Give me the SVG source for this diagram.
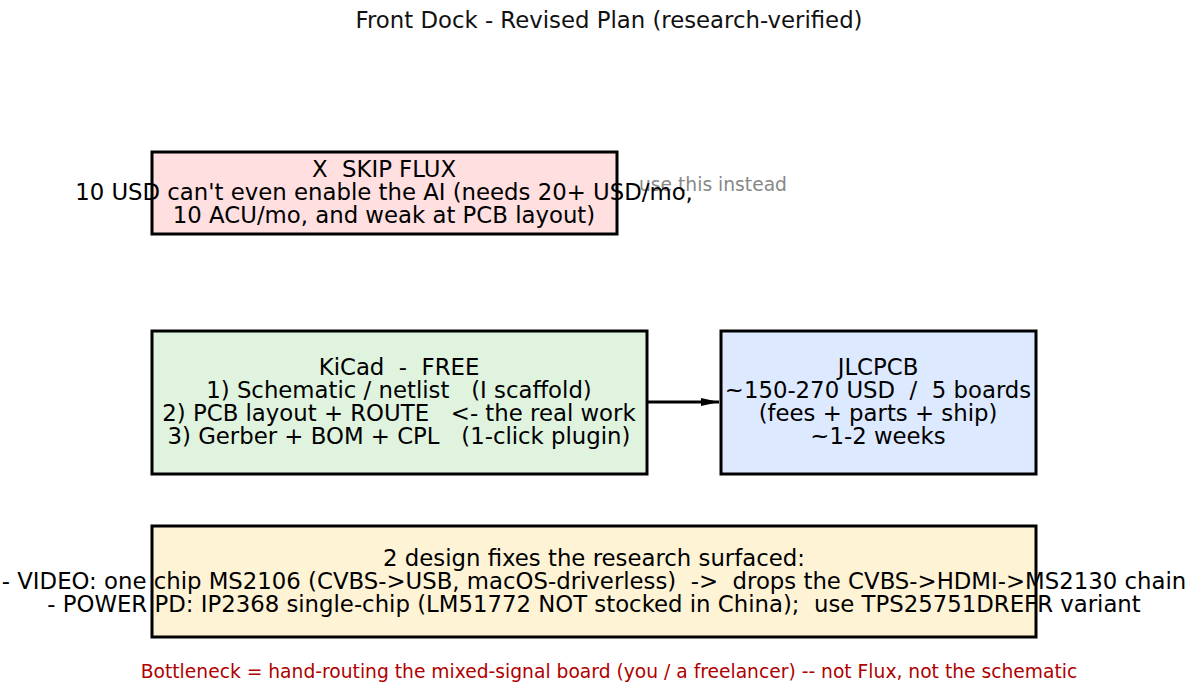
<svg xmlns="http://www.w3.org/2000/svg" width="1188" height="691" viewBox="0 0 1188 691">
<style>
text{font-family:"DejaVu Sans",sans-serif;text-anchor:middle;white-space:pre}
.t{font-size:22.8px;fill:#000}
.box{stroke:#000;stroke-width:3}
</style>
<defs><marker id="ah" markerWidth="18" markerHeight="10" refX="18" refY="5" orient="auto" markerUnits="userSpaceOnUse"><path d="M0,1 L18,5 L0,9z" fill="#000"/></marker></defs>
<rect width="1188" height="691" fill="#fff"/>
<text x="609" y="28" style="font-size:22.8px;fill:#111">Front Dock - Revised Plan (research-verified)</text>
<g id="connectors">
<line x1="647" y1="402" x2="719" y2="402" stroke="#000" stroke-width="3" marker-end="url(#ah)"/>
<text x="713" y="191" style="font-size:18.7px;fill:#888">use this instead</text>
</g>
<g id="flux"><rect class="box" x="152" y="152" width="465" height="82" fill="#ffdfdf"/>
<text class="t" x="384" y="177">X  SKIP FLUX</text>
<text class="t" x="384" y="200">10 USD can't even enable the AI (needs 20+ USD/mo,</text>
<text class="t" x="384" y="223">10 ACU/mo, and weak at PCB layout)</text></g>
<g id="kicad"><rect class="box" x="152" y="331" width="495" height="143" fill="#dff3df"/>
<text class="t" x="399" y="375">KiCad  -  FREE</text>
<text class="t" x="399" y="398">1) Schematic / netlist   (I scaffold)</text>
<text class="t" x="399" y="421">2) PCB layout + ROUTE   &lt;- the real work</text>
<text class="t" x="399" y="444">3) Gerber + BOM + CPL   (1-click plugin)</text></g>
<g id="jlcpcb"><rect class="box" x="721" y="331" width="315" height="143" fill="#dce9ff"/>
<text class="t" x="878" y="375">JLCPCB</text>
<text class="t" x="878" y="398">~150-270 USD  /  5 boards</text>
<text class="t" x="878" y="421">(fees + parts + ship)</text>
<text class="t" x="878" y="444">~1-2 weeks</text></g>
<g id="fixes"><rect class="box" x="152" y="526" width="884" height="111" fill="#fff3d6"/>
<text class="t" x="594" y="566">2 design fixes the research surfaced:</text>
<text class="t" x="594" y="589">- VIDEO: one chip MS2106 (CVBS-&gt;USB, macOS-driverless)  -&gt;  drops the CVBS-&gt;HDMI-&gt;MS2130 chain</text>
<text class="t" x="594" y="612">- POWER PD: IP2368 single-chip (LM51772 NOT stocked in China);  use TPS25751DREFR variant</text></g>
<text x="609" y="678" style="font-size:18.7px;fill:#b00000">Bottleneck = hand-routing the mixed-signal board (you / a freelancer) -- not Flux, not the schematic</text>
</svg>
